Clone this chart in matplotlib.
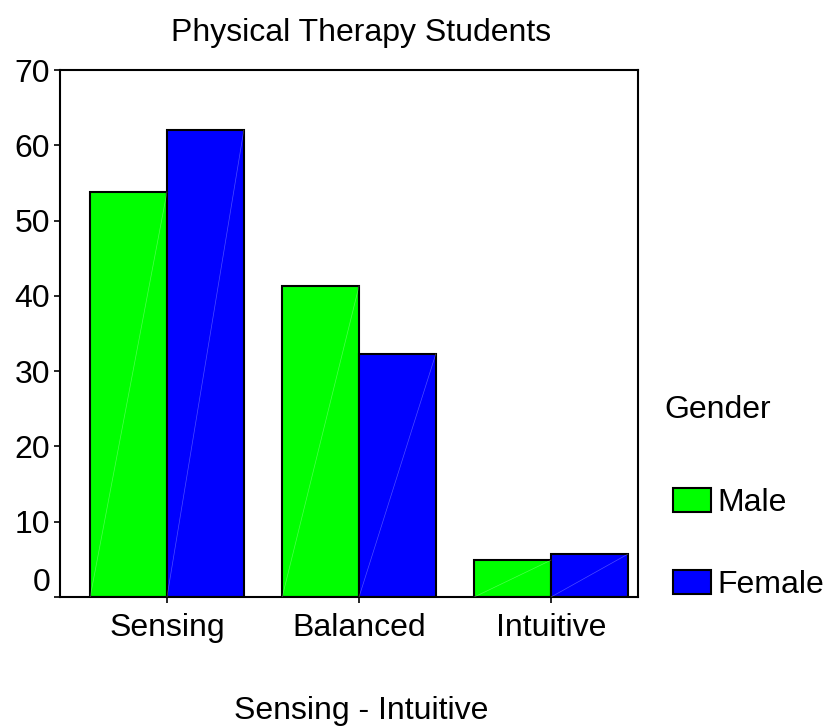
import numpy as np
import matplotlib.pyplot as plt
import matplotlib.transforms as mtransforms

plt.rcParams['font.family'] = ['Liberation Sans', 'DejaVu Sans']

categories = ['Sensing', 'Balanced', 'Intuitive']
genders = ['Male', 'Female']
male = [53.8, 41.3, 4.9]
female = [62.0, 32.3, 5.7]
colors = ['#00ff00', '#0000ff']

fig = plt.figure(figsize=(8.27, 7.27), dpi=100)
ax = fig.add_axes([0.0726, 0.1788, 0.6989, 0.7249])

x = np.arange(len(categories))
w = 0.40
bars = []
for i, (vals, col, lab) in enumerate(zip([male, female], colors, genders)):
    b = ax.bar(x + (i - 0.5) * w, vals, width=w, color=col, edgecolor='black',
               linewidth=1.5, label=lab, zorder=2)
    bars.append(b)

# faint diagonal streak seen in every bar
for b in bars:
    for p in b.patches:
        ax.plot([p.get_x(), p.get_x() + p.get_width()], [0, p.get_height()],
                color='white', lw=0.5, alpha=0.3, zorder=3)

ax.set_xlim(-0.557, 2.453)
ax.set_ylim(0, 70)
ax.set_yticks(range(0, 71, 10))
ax.set_xticks(x)
ax.set_xticklabels(categories)
ax.tick_params(axis='both', labelsize=23, length=4, width=1.2, direction='out')
ax.tick_params(axis='x', pad=7.5)
ax.tick_params(axis='y', pad=3)
for s in ax.spines.values():
    s.set_linewidth(1.5)

# the "0" label sits a bit above its tick in the original
fig.canvas.draw()
zero_lab = ax.get_yticklabels()[0]
zero_lab.set_transform(zero_lab.get_transform() +
                       mtransforms.ScaledTranslation(0, 0.18, fig.dpi_scale_trans))

fig.text(0.437, 0.955, 'Physical Therapy Students', ha='center', va='center', fontsize=23)
fig.text(0.437, 0.022, 'Sensing - Intuitive', ha='center', va='center', fontsize=23)
fig.text(0.803, 0.436, 'Gender', ha='left', va='center', fontsize=23)

leg = fig.legend(handles=[b.patches[0] for b in bars], labels=genders,
                 loc='upper left', bbox_to_anchor=(0.8138, 0.329), frameon=False,
                 fontsize=23, handlelength=1.19, handleheight=0.78,
                 handletextpad=0.2, labelspacing=1.625, borderpad=0, borderaxespad=0)

fig.savefig('out.png', dpi=100)
